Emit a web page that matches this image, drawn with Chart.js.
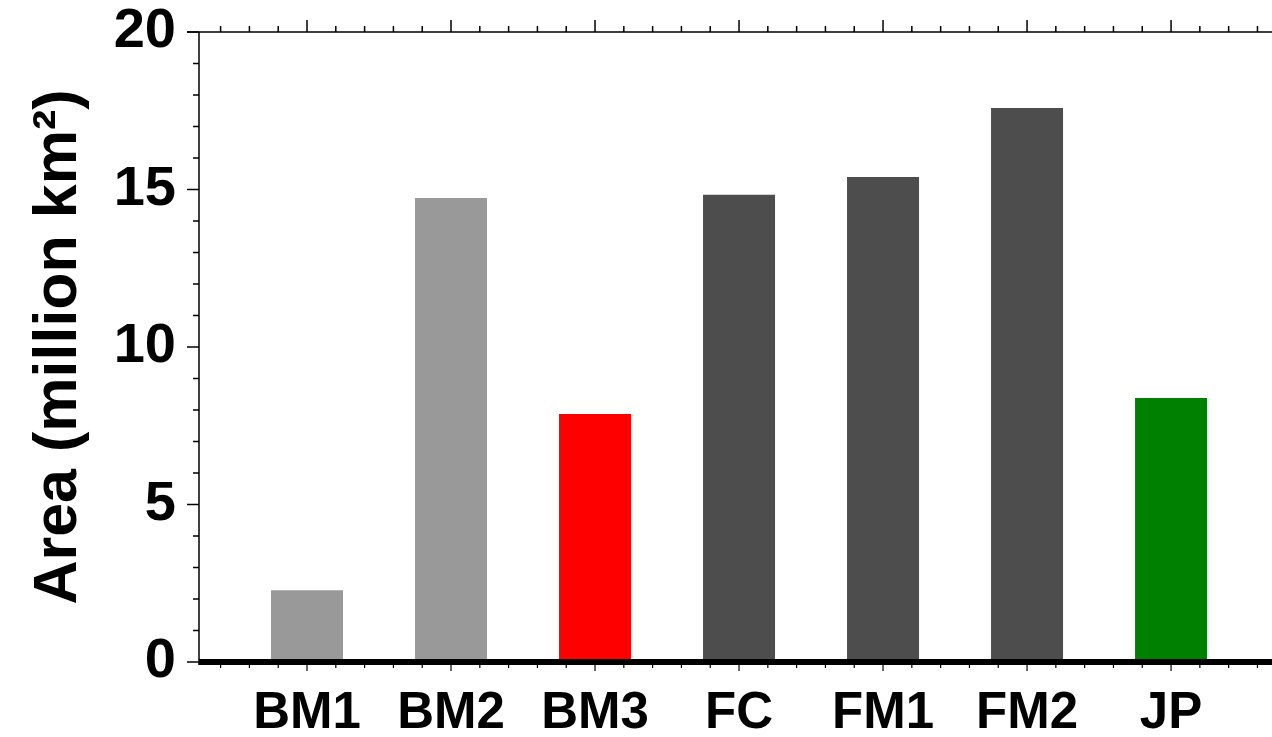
<!DOCTYPE html>
<html>
<head>
<meta charset="utf-8">
<script src="https://cdn.jsdelivr.net/npm/chart.js@4"></script>
<style>
  body { margin: 0; background: #fff; }
  #wrap { width: 1272px; height: 737px; }
</style>
</head>
<body>
<div id="wrap"><canvas id="chart" width="1272" height="737"></canvas></div>
<script>
const categories = ['BM1', 'BM2', 'BM3', 'FC', 'FM1', 'FM2', 'JP']
const areas = [2.28, 14.73, 7.87, 14.83, 15.40, 17.59, 8.38]
const barColors = ['#999999', '#999999', '#ff0000', '#4d4d4d', '#4d4d4d', '#4d4d4d', '#008000']
const yTicks = [0, 5, 10, 15, 20]

const family = '"Liberation Sans", Arial, sans-serif'

// axis frame with major/minor ticks, drawn off the chart scales
const axesFrame = {
    id: 'axesFrame',
    afterDraw(chart) {
        const ctx = chart.ctx
        const area = chart.chartArea
        const x = chart.scales.x
        const y = chart.scales.y
        const right = chart.width
        ctx.save()
        ctx.strokeStyle = '#000'

        // left axis
        ctx.lineWidth = 1.5
        ctx.beginPath()
        ctx.moveTo(area.left, area.top)
        ctx.lineTo(area.left, area.bottom + 3)
        for (let v = 0; v <= 20; v++) {
            const py = y.getPixelForValue(v)
            const len = v % 5 === 0 ? 12 : 6
            ctx.moveTo(area.left - len, py)
            ctx.lineTo(area.left, py)
        }
        ctx.stroke()

        // top axis
        ctx.beginPath()
        ctx.moveTo(area.left - 12, area.top)
        ctx.lineTo(right, area.top)
        for (let k = -3; k <= 34; k++) {
            const px = x.getPixelForValue(k / 5)
            if (px < area.left || px > right) continue
            const len = k % 5 === 0 ? 12 : 6
            ctx.moveTo(px, area.top)
            ctx.lineTo(px, area.top - len)
        }
        ctx.stroke()

        // bottom axis ticks
        ctx.lineWidth = 1.2
        ctx.beginPath()
        for (let k = -3; k <= 34; k++) {
            const px = x.getPixelForValue(k / 5)
            if (px < area.left || px > right) continue
            const len = k % 5 === 0 ? 9 : 6
            ctx.moveTo(px, area.bottom)
            ctx.lineTo(px, area.bottom + len)
        }
        ctx.stroke()

        // thick bottom line
        ctx.lineWidth = 6
        ctx.beginPath()
        ctx.moveTo(area.left, area.bottom)
        ctx.lineTo(right, area.bottom)
        ctx.stroke()
        ctx.restore()
    }
}

new Chart(document.getElementById('chart'), {
    type: 'bar',
    data: {
        datasets: [{
            data: areas.map((v, i) => ({ x: i, y: v })),
            backgroundColor: barColors,
            barPercentage: 0.5,
            categoryPercentage: 1.0
        }]
    },
    options: {
        responsive: false,
        animation: false,
        layout: { padding: { top: 32, right: 0, left: 0, bottom: 0 } },
        plugins: {
            legend: { display: false },
            tooltip: { enabled: false }
        },
        scales: {
            x: {
                type: 'linear',
                offset: false,
                min: -0.75,
                max: 6.701,
                afterBuildTicks: scale => {
                    scale.ticks = categories.map((c, i) => ({ value: i }))
                },
                afterFit: scale => {
                    scale.height = 75
                    scale.paddingLeft = 0
                    scale.paddingRight = 0
                },
                grid: { display: false, drawTicks: false },
                border: { display: false },
                ticks: {
                    color: '#000',
                    font: { family: family, size: 51, weight: 'bold' },
                    padding: 21,
                    maxRotation: 0,
                    autoSkip: false,
                    callback: v => categories[v]
                }
            },
            y: {
                min: 0,
                max: 20,
                afterBuildTicks: scale => {
                    scale.ticks = yTicks.map(v => ({ value: v }))
                },
                afterFit: scale => {
                    scale.width = 199
                    scale.paddingTop = 0
                    scale.paddingBottom = 0
                },
                grid: { display: false, drawTicks: false },
                border: { display: false },
                ticks: {
                    color: '#000',
                    font: { family: family, size: 56, weight: 'bold' },
                    padding: 23
                },
                title: {
                    display: true,
                    text: 'Area (million km²)',
                    color: '#000',
                    font: { family: family, size: 61, weight: 'bold' },
                    padding: { top: 23, bottom: 0 }
                }
            }
        }
    },
    plugins: [axesFrame]
})
</script>
</body>
</html>
